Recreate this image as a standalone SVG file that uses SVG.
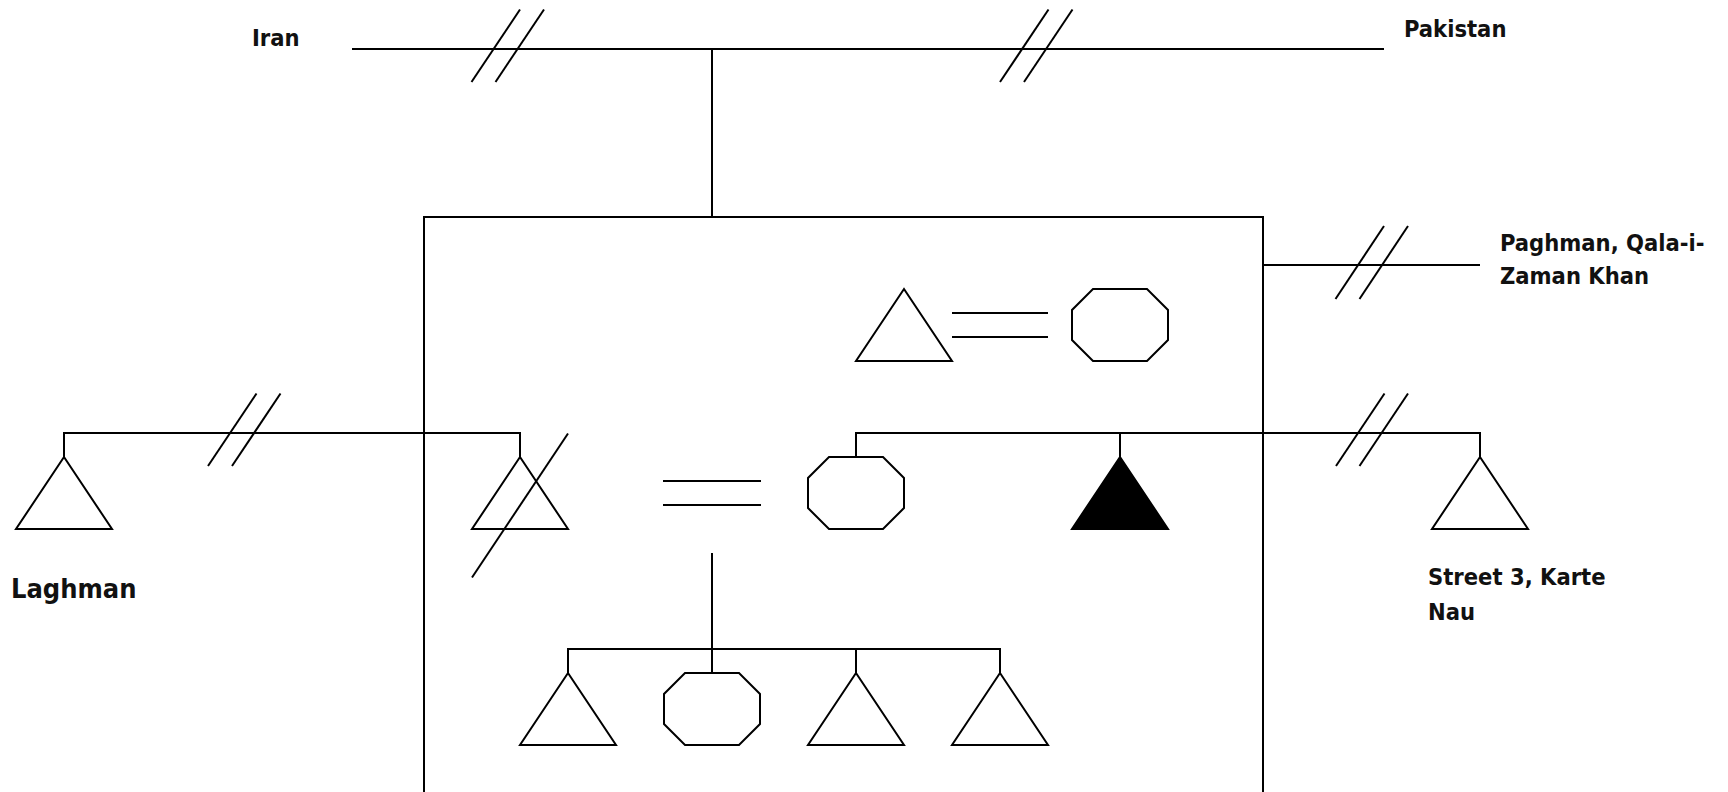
<svg xmlns="http://www.w3.org/2000/svg" xmlns:xlink="http://www.w3.org/1999/xlink" width="1728" height="792" viewBox="0 0 1728 792">
<style>
.ln{stroke:#000;stroke-width:2;fill:none;stroke-linecap:butt}
.shape{stroke:#000;stroke-width:2;fill:#fff;stroke-linejoin:miter}
.filled{stroke:#000;stroke-width:2;fill:#000}
.lbl{font-family:"DejaVu Sans Condensed","DejaVu Sans",sans-serif;font-stretch:condensed;font-weight:bold;font-size:23.5px;fill:#111}
</style>
<defs>
<path id="tri" d="M48 0 L96 72 L0 72 Z"/>
<path id="oct" d="M21 0 H75 L96 21 V51 L75 72 H21 L0 51 V21 Z"/>
</defs>
<rect width="1728" height="792" fill="#fff"/>
<g id="connectors">
<!-- top border line -->
<line class="ln" x1="352" y1="49" x2="1384" y2="49"/>
<line class="ln" x1="471.5" y1="82" x2="520" y2="9.5"/>
<line class="ln" x1="495.5" y1="82" x2="544" y2="9.5"/>
<line class="ln" x1="1000" y1="82" x2="1048.5" y2="9.5"/>
<line class="ln" x1="1024" y1="82" x2="1072.5" y2="9.5"/>
<line class="ln" x1="712" y1="49" x2="712" y2="217"/>
<!-- household box -->
<path class="ln" d="M424 800 V217 H1263 V800"/>
<!-- Paghman -->
<line class="ln" x1="1263" y1="265" x2="1480" y2="265"/>
<line class="ln" x1="1335.5" y1="299" x2="1384" y2="226"/>
<line class="ln" x1="1359.5" y1="299" x2="1408" y2="226"/>
<!-- left sibling link -->
<path class="ln" d="M64 457 V433 H520 V457"/>
<line class="ln" x1="208" y1="466" x2="256.5" y2="393.5"/>
<line class="ln" x1="232" y1="466" x2="280.5" y2="393.5"/>
<!-- marriage lines -->
<line class="ln" x1="952" y1="313" x2="1048" y2="313"/>
<line class="ln" x1="952" y1="337" x2="1048" y2="337"/>
<line class="ln" x1="663" y1="481" x2="761" y2="481"/>
<line class="ln" x1="663" y1="505" x2="761" y2="505"/>
<!-- right sibling link -->
<path class="ln" d="M856 457 V433 H1480 V457"/>
<line class="ln" x1="1120" y1="433" x2="1120" y2="457"/>
<line class="ln" x1="1336" y1="466" x2="1384.5" y2="393.5"/>
<line class="ln" x1="1359.5" y1="466" x2="1408" y2="393.5"/>
<!-- children -->
<line class="ln" x1="712" y1="553" x2="712" y2="673"/>
<path class="ln" d="M568 673 V649 H1000 V673"/>
<line class="ln" x1="856" y1="649" x2="856" y2="673"/>
</g>
<g id="node-father"><use href="#tri" class="shape" transform="translate(856,289)"/></g>
<g id="node-mother"><use href="#oct" class="shape" transform="translate(1072,289)"/></g>
<g id="node-laghman-brother"><use href="#tri" class="shape" transform="translate(16,457)"/></g>
<g id="node-deceased-brother"><use href="#tri" class="shape" transform="translate(472,457)"/><line class="ln" x1="472" y1="577.5" x2="568" y2="433.5"/></g>
<g id="node-sister"><use href="#oct" class="shape" transform="translate(808,457)"/></g>
<g id="node-ego"><use href="#tri" class="filled" transform="translate(1072,457)"/></g>
<g id="node-karte-brother"><use href="#tri" class="shape" transform="translate(1432,457)"/></g>
<g id="node-child1"><use href="#tri" class="shape" transform="translate(520,673)"/></g>
<g id="node-child2"><use href="#oct" class="shape" transform="translate(664,673)"/></g>
<g id="node-child3"><use href="#tri" class="shape" transform="translate(808,673)"/></g>
<g id="node-child4"><use href="#tri" class="shape" transform="translate(952,673)"/></g>
<g id="labels">
<text class="lbl" x="252" y="46">Iran</text>
<text class="lbl" x="1404" y="37">Pakistan</text>
<text class="lbl" x="1500" y="251">Paghman, Qala-i-</text>
<text class="lbl" x="1500" y="284">Zaman Khan</text>
<text class="lbl" x="1428" y="585">Street 3, Karte</text>
<text class="lbl" x="1428" y="620">Nau</text>
<text class="lbl" x="11" y="598" style="font-size:27px">Laghman</text>
</g>
</svg>
